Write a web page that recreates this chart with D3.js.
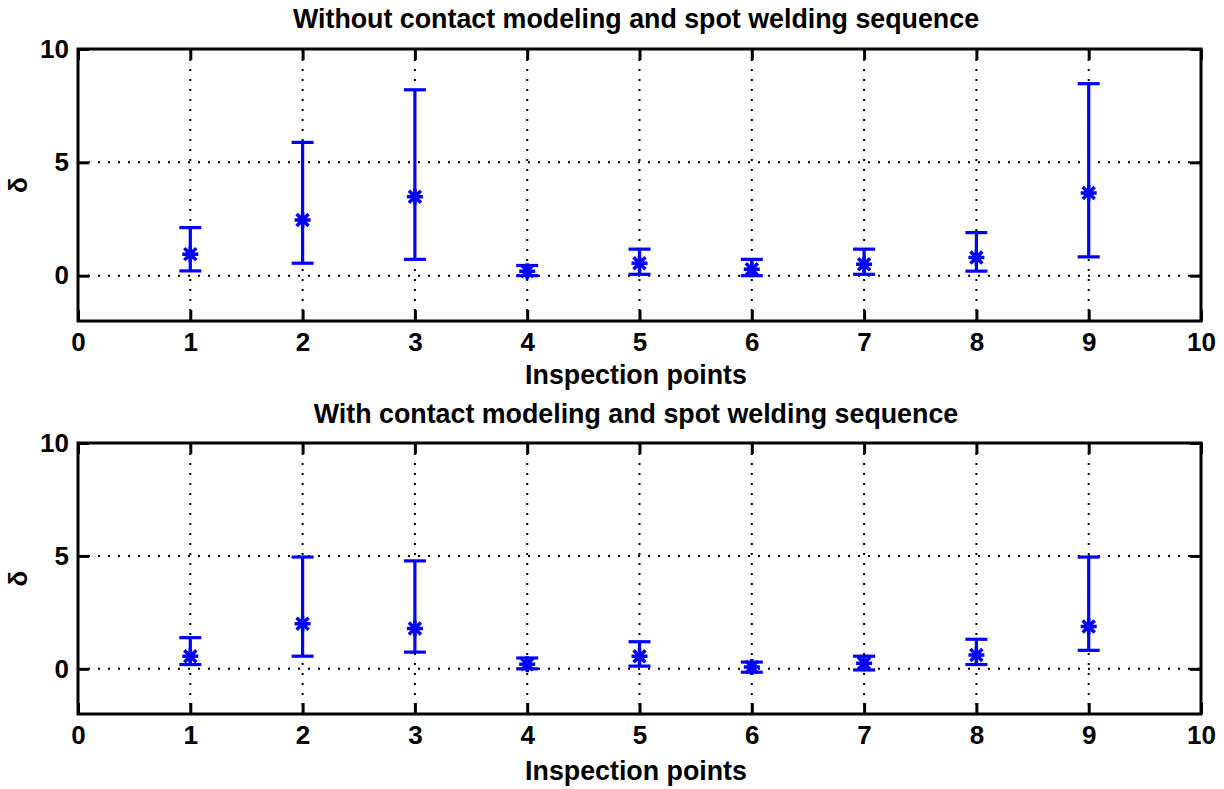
<!DOCTYPE html>
<html>
<head>
<meta charset="utf-8">
<script src="https://cdn.jsdelivr.net/npm/d3@7"></script>
<style>
  html, body { margin: 0; padding: 0; background: #fff; }
  svg { display: block; }
  text { font-family: "Liberation Sans", Arial, Helvetica, sans-serif; font-weight: bold; fill: #000; }
</style>
</head>
<body>
<svg id="chart" width="1224" height="789"></svg>
<script>
// ---- data ----
const points = [1, 2, 3, 4, 5, 6, 7, 8, 9];
const xTicks = [0, 1, 2, 3, 4, 5, 6, 7, 8, 9, 10];
const yTicks = [0, 5, 10];

const titles = [
  "Without contact modeling and spot welding sequence",
  "With contact modeling and spot welding sequence"
];
const xLabel = "Inspection points";
const yLabel = "δ";

// panel 1: without contact modeling
const meanWithout  = [0.95, 2.46, 3.48, 0.20, 0.55, 0.28, 0.50, 0.80, 3.65];
const lowerWithout = [0.21, 0.55, 0.72, 0.00, 0.06, 0.00, 0.06, 0.20, 0.83];
const upperWithout = [2.12, 5.88, 8.20, 0.45, 1.17, 0.72, 1.17, 1.90, 8.47];

// panel 2: with contact modeling
const meanWith  = [0.56, 2.00, 1.79, 0.20, 0.56, 0.08, 0.25, 0.61, 1.87];
const lowerWith = [0.19, 0.56, 0.74, 0.00, 0.12, -0.15, -0.05, 0.19, 0.82];
const upperWith = [1.38, 4.95, 4.78, 0.48, 1.20, 0.30, 0.56, 1.31, 4.95];

const panels = [
  { title: titles[0], mean: meanWithout, lower: lowerWithout, upper: upperWithout, top: 49, bottom: 321, titleY: 28, labelY: 384 },
  { title: titles[1], mean: meanWith, lower: lowerWith, upper: upperWith, top: 443, bottom: 714, titleY: 423, labelY: 780 }
];

const svg = d3.select("#chart");
const left = 78, right = 1201;
const blue = "#0000ff";
const x = d3.scaleLinear().domain([0, 10]).range([left, right]);
const FS = 26;
const FS_T = 26.8;

panels.forEach(p => {
  const y = d3.scaleLinear().domain([-2, 10]).range([p.bottom, p.top]);
  const g = svg.append("g");

  // grid (dotted)
  g.selectAll(".gx").data(xTicks.filter(t => t > 0 && t < 10)).join("line")
    .attr("x1", d => x(d)).attr("x2", d => x(d))
    .attr("y1", p.top).attr("y2", p.bottom)
    .attr("stroke", "#000").attr("stroke-width", 2).attr("stroke-dasharray", "2,8");
  g.selectAll(".gy").data(yTicks.filter(t => t < 10)).join("line")
    .attr("x1", left).attr("x2", right)
    .attr("y1", d => y(d)).attr("y2", d => y(d))
    .attr("stroke", "#000").attr("stroke-width", 2).attr("stroke-dasharray", "2,8");

  // axes
  const styleAxis = sel => {
    sel.select(".domain").remove();
    sel.selectAll(".tick line").attr("stroke", "#000").attr("stroke-width", 3);
    sel.selectAll(".tick text").style("font-size", FS + "px").style("font-weight", "bold")
      .style("font-family", '"Liberation Sans", Arial, sans-serif').attr("fill", "#000");
  };
  g.append("g").attr("transform", `translate(0,${p.bottom})`)
    .call(d3.axisBottom(x).tickValues(xTicks).tickSize(-11).tickPadding(12).tickFormat(d3.format("d")))
    .call(styleAxis);
  g.append("g").attr("transform", `translate(0,${p.top})`)
    .call(d3.axisTop(x).tickValues(xTicks).tickSize(-11).tickFormat(""))
    .call(styleAxis);
  g.append("g").attr("transform", `translate(${left},0)`)
    .call(d3.axisLeft(y).tickValues(yTicks).tickSize(-11).tickPadding(9).tickFormat(d3.format("d")))
    .call(styleAxis);
  g.append("g").attr("transform", `translate(${right},0)`)
    .call(d3.axisRight(y).tickValues(yTicks).tickSize(-11).tickFormat(""))
    .call(styleAxis);

  // box
  g.append("rect").attr("x", left).attr("y", p.top)
    .attr("width", right - left).attr("height", p.bottom - p.top)
    .attr("fill", "none").attr("stroke", "#000").attr("stroke-width", 3);

  // error bars
  const rows = points.map((pt, i) => ({ pt, m: p.mean[i], lo: p.lower[i], hi: p.upper[i] }));
  const eb = g.append("g").attr("stroke", blue).attr("stroke-width", 3.2).attr("fill", "none");
  eb.selectAll(".v").data(rows).join("line")
    .attr("x1", d => x(d.pt)).attr("x2", d => x(d.pt))
    .attr("y1", d => y(d.lo)).attr("y2", d => y(d.hi));
  const capW = 11;
  eb.selectAll(".ct").data(rows).join("line")
    .attr("x1", d => x(d.pt) - capW).attr("x2", d => x(d.pt) + capW)
    .attr("y1", d => y(d.hi)).attr("y2", d => y(d.hi));
  eb.selectAll(".cb").data(rows).join("line")
    .attr("x1", d => x(d.pt) - capW).attr("x2", d => x(d.pt) + capW)
    .attr("y1", d => y(d.lo)).attr("y2", d => y(d.lo));

  // asterisk markers
  const r = 8, rd = 6;
  eb.selectAll(".mk").data(rows).join("path")
    .attr("transform", d => `translate(${x(d.pt)},${y(d.m)})`)
    .attr("d", `M${-r},0H${r}M0,${-r}V${r}M${-rd},${-rd}L${rd},${rd}M${-rd},${rd}L${rd},${-rd}`)
    .attr("stroke-width", 3.5);

  // texts
  g.append("text").attr("x", 636).attr("y", p.titleY).attr("text-anchor", "middle")
    .style("font-size", FS_T + "px").text(p.title);
  g.append("text").attr("x", 636).attr("y", p.labelY).attr("text-anchor", "middle")
    .style("font-size", FS_T + "px").text(xLabel);
  g.append("text").attr("transform", `translate(27,${(p.top + p.bottom) / 2}) rotate(-90)`)
    .attr("text-anchor", "middle")
    .style("font-size", FS + "px").text(yLabel);
});
</script>
</body>
</html>
